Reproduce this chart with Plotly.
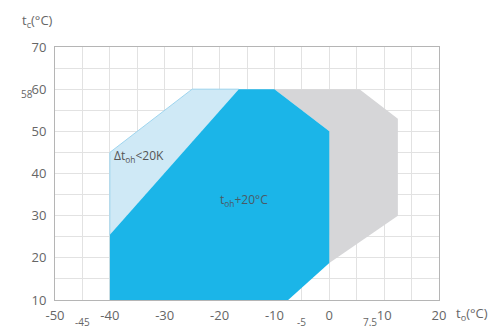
import plotly.graph_objects as go

# Data
x_ticks = [-50, -40, -30, -20, -10, 0, 10, 20]
x_tick_labels = ["-50", "-40", "-30", "-20", "-10", "0", "10", "20"]
y_ticks = [10, 20, 30, 40, 50, 60, 70]
y_tick_labels = ["10", "20", "30", "40", "50", "60", "70"]

gray_x = [-10, 5.5, 12.5, 12.5, 0, 0]
gray_y = [60, 60, 53, 30, 18.8, 50]

light_x = [-40, -40, -25, -16.5]
light_y = [25.5, 45, 60, 60]

dark_x = [-40, -40, -16.5, -10, 0, 0, -7.5]
dark_y = [10, 25.5, 60, 60, 50, 18.8, 10]

extra_x_labels = [(-45, "-45"), (-5, "-5"), (7.5, "7.5")]
extra_y_label = (58, "58")

FONT = "Open Sans"
TXT = "#666666"

fig = go.Figure()
fig.add_trace(go.Scatter(x=gray_x, y=gray_y, fill="toself", mode="lines",
                         fillcolor="#d6d6d8", line=dict(color="#d6d6d8", width=0),
                         hoverinfo="skip", showlegend=False))
fig.add_trace(go.Scatter(x=light_x, y=light_y, fill="toself", mode="lines",
                         fillcolor="#cfe9f6", line=dict(color="#9ed5ef", width=1),
                         hoverinfo="skip", showlegend=False))
fig.add_trace(go.Scatter(x=dark_x, y=dark_y, fill="toself", mode="lines",
                         fillcolor="#1bb5e8", line=dict(color="#1bb5e8", width=0),
                         hoverinfo="skip", showlegend=False))

fig.update_layout(
    width=496, height=329,
    margin=dict(l=55, r=57, t=47, b=29),
    paper_bgcolor="white", plot_bgcolor="white",
    font=dict(family=FONT, color=TXT, size=13),
    xaxis=dict(range=[-50, 20], tickvals=x_ticks, ticktext=x_tick_labels,
               showgrid=True, gridcolor="#e2e2e2", gridwidth=1,
               minor=dict(dtick=5, tick0=0, showgrid=True, gridcolor="#e2e2e2"),
               showline=True, linecolor="#b5b5b5", linewidth=1, mirror=True,
               ticks="", zeroline=False, ticklabelstandoff=3, automargin=False,
               tickfont=dict(size=13, color=TXT)),
    yaxis=dict(range=[10, 70], tickvals=y_ticks, ticktext=y_tick_labels,
               showgrid=True, gridcolor="#e2e2e2", gridwidth=1,
               minor=dict(dtick=5, tick0=0, showgrid=True, gridcolor="#e2e2e2"),
               showline=True, linecolor="#b5b5b5", linewidth=1, mirror=True,
               ticks="", zeroline=False, ticklabelstandoff=5, automargin=False,
               tickfont=dict(size=13, color=TXT)),
)

# axis titles
fig.add_annotation(text="t<sub>c</sub>(°C)", xref="paper", yref="paper",
                   x=-0.09, y=1.0, yshift=26, xanchor="left", yanchor="middle",
                   showarrow=False, font=dict(size=13, color=TXT))
fig.add_annotation(text="t<sub>o</sub>(°C)", xref="paper", yref="paper",
                   x=1.0, y=0, xshift=15, yshift=-14, xanchor="left", yanchor="middle",
                   showarrow=False, font=dict(size=13, color=TXT))

# region labels
fig.add_annotation(text="Δt<sub>oh</sub><20K", x=-39.6, y=44.2, xanchor="left",
                   yanchor="middle", showarrow=False, font=dict(size=12, color="#555555"))
fig.add_annotation(text="t<sub>oh</sub>+20°C", x=-15.5, y=33.7, xanchor="center",
                   yanchor="middle", showarrow=False, font=dict(size=12, color="#4a5a66"))

# extra small labels
for xv, lab in extra_x_labels:
    fig.add_annotation(text=lab, x=xv, xref="x", yref="paper", y=0, yshift=-22,
                       xanchor="center", yanchor="middle", showarrow=False,
                       font=dict(size=10, color=TXT))
fig.add_annotation(text=extra_y_label[1], xref="paper", y=extra_y_label[0] + 0.8, yref="y",
                   x=0, xshift=-20, xanchor="right", yanchor="middle", showarrow=False,
                   font=dict(size=10, color=TXT))

fig.write_html("out.html", config={"displayModeBar": False},
               post_script="document.body.style.margin='0';")
